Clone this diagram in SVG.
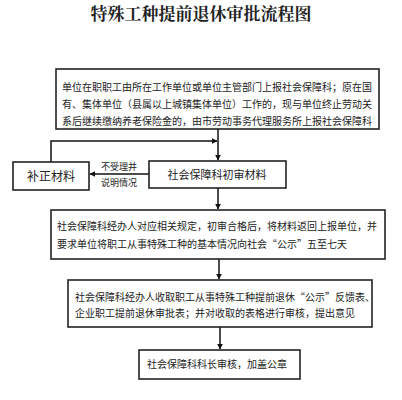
<svg xmlns="http://www.w3.org/2000/svg" width="402" height="400" viewBox="0 0 402 400">
<style>
.box{fill:#fff;stroke:#222;stroke-width:1.6}
.t{font-family:"Noto Sans CJK SC","Noto Sans",sans-serif;font-size:10px;fill:#222}
.c{stroke:#111;stroke-width:1.5;fill:none}
</style>
<defs>
<marker id="ah" viewBox="0 0 10 10" refX="9" refY="5" markerWidth="6" markerHeight="6" orient="auto" markerUnits="userSpaceOnUse">
<path d="M0,0L10,5L0,10z" fill="#111"/>
</marker>
</defs>
<rect width="402" height="400" fill="#fff"/>
<text x="201" y="20" text-anchor="middle" style="font-family:'Noto Serif CJK SC','Noto Sans CJK SC',serif;font-size:17px;font-weight:bold;fill:#222">特殊工种提前退休审批流程图</text>
<g id="connectors">
<line class="c" x1="218" y1="129" x2="218" y2="160" marker-end="url(#ah)"/>
<polyline class="c" points="51,162 51,141 217,141" marker-end="url(#ah)"/>
<line class="c" x1="149" y1="174" x2="90" y2="174" marker-end="url(#ah)"/>
<text class="t" x="119" y="170" text-anchor="middle" style="font-size:9px">不受理并</text>
<text class="t" x="119" y="186" text-anchor="middle" style="font-size:9px">说明情况</text>
<line class="c" x1="218" y1="188" x2="218" y2="209" marker-end="url(#ah)"/>
<line class="c" x1="219" y1="259" x2="219" y2="279" marker-end="url(#ah)"/>
<line class="c" x1="220" y1="327" x2="220" y2="349" marker-end="url(#ah)"/>
</g>
<g id="n1">
<rect class="box" x="56" y="69" width="323" height="60"/>
<text class="t" x="62" y="90.5">单位在职职工由所在工作单位或单位主管部门上报社会保障科；原在国</text>
<text class="t" x="62" y="107.5">有、集体单位（县属以上城镇集体单位）工作的，现与单位终止劳动关</text>
<text class="t" x="62" y="124.5">系后继续缴纳养老保险金的，由市劳动事务代理服务所上报社会保障科</text>
</g>
<g id="n2">
<rect class="box" x="13" y="162" width="76" height="28"/>
<text class="t" x="51" y="180.5" text-anchor="middle" style="font-size:12px">补正材料</text>
</g>
<g id="n3">
<rect class="box" x="149" y="161" width="137" height="27"/>
<text class="t" x="217" y="178.5" text-anchor="middle" style="font-size:11px">社会保障科初审材料</text>
</g>
<g id="n4">
<rect class="box" x="51" y="210" width="334" height="49"/>
<text class="t" x="57" y="229.5">社会保障科经办人对应相关规定，初审合格后，将材料返回上报单位，并</text>
<text class="t" x="57" y="247.5">要求单位将职工从事特殊工种的基本情况向社会“公示”五至七天</text>
</g>
<g id="n5">
<rect class="box" x="68" y="280" width="304" height="47"/>
<text class="t" x="75" y="300.5">社会保障科经办人收取职工从事特殊工种提前退休“公示”反馈表、</text>
<text class="t" x="75" y="316.5">企业职工提前退休审批表；并对收取的表格进行审核，提出意见</text>
</g>
<g id="n6">
<rect class="box" x="139" y="350" width="161" height="29"/>
<text class="t" x="147" y="367.5">社会保障科科长审核，加盖公章</text>
</g>
</svg>
